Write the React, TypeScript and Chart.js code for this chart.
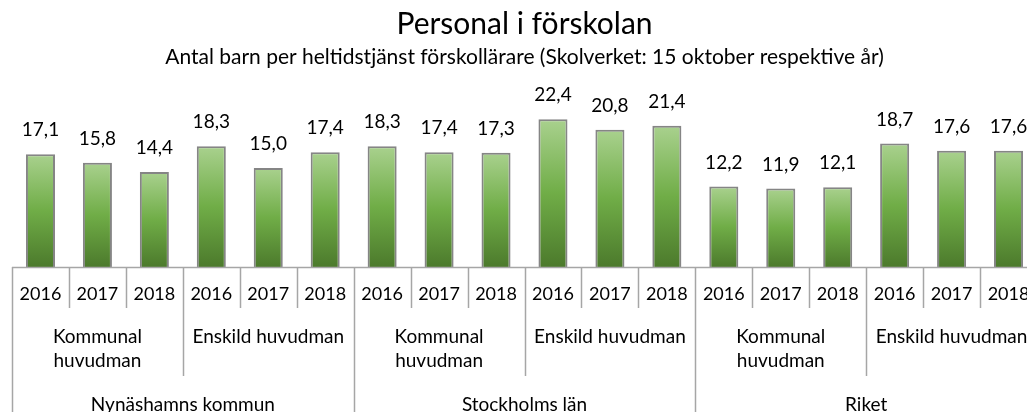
import React, { useEffect, useRef } from "react";
import { Chart, registerables } from "chart.js";

Chart.register(...registerables);

const regions = ["Nynäshamns kommun", "Stockholms län", "Riket"];
const huvudman = [["Kommunal", "huvudman"], ["Enskild huvudman"]];
const years = ["2016", "2017", "2018"];
const values = [
  17.1, 15.8, 14.4, 18.3, 15.0, 17.4,
  18.3, 17.4, 17.3, 22.4, 20.8, 21.4,
  12.2, 11.9, 12.1, 18.7, 17.6, 17.6,
];
const titleText = "Personal i förskolan";
const subtitleText = "Antal barn per heltidstjänst förskollärare (Skolverket: 15 oktober respektive år)";

const FONT = "Lato, 'Open Sans', sans-serif";
const W = 1046;
const H = 412;

const labels = regions.flatMap((r) =>
  huvudman.flatMap((h) => years.map((y) => [y, h.join(" "), r]))
);

const fmt = (v: number) => v.toFixed(1).replace(".", ",");

const valueLabelPlugin = {
  id: "valueLabels",
  afterDatasetsDraw(chart: any) {
    const ctx = chart.ctx;
    const meta = chart.getDatasetMeta(0);
    ctx.save();
    ctx.font = `19px ${FONT}`;
    ctx.fillStyle = "#000";
    ctx.textAlign = "center";
    ctx.textBaseline = "middle";
    meta.data.forEach((bar: any, i: number) => {
      ctx.fillText(fmt(values[i]), bar.x, bar.y - 24);
    });
    ctx.restore();
  },
};

const multiAxisPlugin = {
  id: "multiAxis",
  afterDraw(chart: any) {
    const ctx = chart.ctx;
    const x = chart.scales.x;
    const area = chart.chartArea;
    const n = labels.length;
    const step = (area.right - area.left) / n;
    const perRegion = huvudman.length * years.length;
    ctx.save();
    ctx.strokeStyle = "#a6a6a6";
    ctx.lineWidth = 1.5;
    ctx.beginPath();
    ctx.moveTo(area.left, area.bottom + 0.5);
    ctx.lineTo(area.right, area.bottom + 0.5);
    ctx.stroke();
    for (let i = 0; i <= n; i++) {
      const bx = Math.round(area.left + i * step) + 0.5;
      let yEnd = area.bottom + 41;
      if (i % perRegion === 0) yEnd = H;
      else if (i % years.length === 0) yEnd = area.bottom + 109;
      ctx.beginPath();
      ctx.moveTo(bx, area.bottom);
      ctx.lineTo(bx, yEnd);
      ctx.stroke();
    }
    ctx.fillStyle = "#000";
    ctx.textAlign = "center";
    ctx.textBaseline = "middle";
    ctx.font = `18px ${FONT}`;
    labels.forEach((l, i) => {
      ctx.fillText(l[0], x.getPixelForValue(i), area.bottom + 27);
    });
    ctx.font = `19px ${FONT}`;
    let gi = 0;
    regions.forEach((r, ri) => {
      huvudman.forEach((h) => {
        const start = gi * years.length;
        const cx = (x.getPixelForValue(start) + x.getPixelForValue(start + years.length - 1)) / 2;
        h.forEach((line, li) => {
          ctx.fillText(line, cx, area.bottom + 70 + li * 24);
        });
        gi++;
      });
      const s = ri * perRegion;
      const rcx = (x.getPixelForValue(s) + x.getPixelForValue(s + perRegion - 1)) / 2;
      ctx.fillText(r, rcx, area.bottom + 138);
    });
    ctx.restore();
  },
};

export default function App() {
  const ref = useRef<HTMLCanvasElement>(null);
  useEffect(() => {
    if (!ref.current) return;
    const chart = new Chart(ref.current, {
      type: "bar",
      data: {
        labels,
        datasets: [
          {
            data: values,
            backgroundColor: (c: any) => {
              const ch = c.chart;
              const ys = ch.scales?.y;
              if (!ch.chartArea || !ys || c.parsed == null) return "#70ad47";
              const top = ys.getPixelForValue(c.parsed.y);
              const bottom = ys.getPixelForValue(0);
              const g = ch.ctx.createLinearGradient(0, top, 0, bottom);
              g.addColorStop(0, "#a9d18e");
              g.addColorStop(0.5, "#70ad47");
              g.addColorStop(1, "#4c7a2c");
              return g;
            },
            borderColor: "#858585",
            borderWidth: 2,
            barPercentage: 0.51,
            categoryPercentage: 1,
          },
        ],
      },
      options: {
        responsive: false,
        animation: false,
        devicePixelRatio: 1,
        layout: { padding: { left: 12, right: 9, top: 0, bottom: H - 267 } },
        plugins: {
          legend: { display: false },
          tooltip: { enabled: false },
          title: {
            display: true,
            text: titleText,
            color: "#000",
            font: { family: FONT, size: 30, weight: "normal" },
            padding: { top: 6, bottom: 1 },
          },
          subtitle: {
            display: true,
            text: subtitleText,
            color: "#000",
            font: { family: FONT, size: 21, weight: "normal" },
            padding: { top: 1.4, bottom: 32.4 },
          },
        },
        scales: {
          x: { display: false },
          y: { display: false, min: 0, max: 25 },
        },
      },
      plugins: [valueLabelPlugin, multiAxisPlugin],
    });
    return () => chart.destroy();
  }, []);
  return (
    <div style={{ position: "fixed", left: 0, top: 0, width: 1027, height: H, overflow: "hidden", background: "#fff" }}>
      <canvas ref={ref} width={W} height={H} style={{ display: "block", width: W, height: H }} />
    </div>
  );
}
